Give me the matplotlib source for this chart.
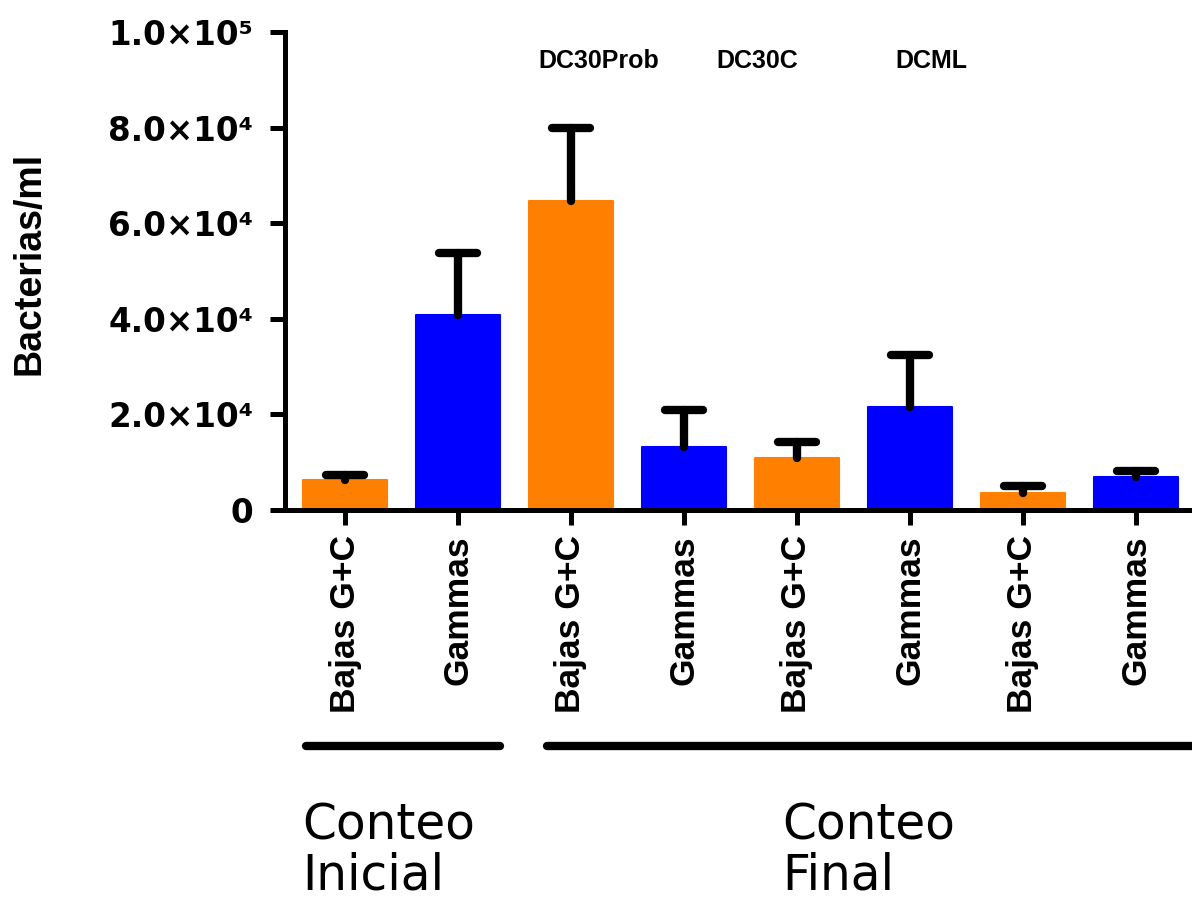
import numpy as np
import matplotlib
matplotlib.use('Agg')
import matplotlib.pyplot as plt
from matplotlib.transforms import blended_transform_factory

# ── Data ──────────────────────────────────────────────────────────────────────
CATEGORIES = ['Bajas G+C', 'Gammas', 'Bajas G+C', 'Gammas',
              'Bajas G+C', 'Gammas', 'Bajas G+C', 'Gammas']
MEANS      = [6300, 40800, 64600, 13200, 10900, 21500, 3600, 6900]
ERRORS     = [1000, 13000, 15300, 7700, 3300, 10900, 1400, 1300]
Y_TICKS    = [0, 20000, 40000, 60000, 80000, 100000]
Y_LABELS   = ['0', '2.0×10⁴', '4.0×10⁴', '6.0×10⁴', '8.0×10⁴', '1.0×10⁵']
TREATMENTS = ['DC30Prob', 'DC30C', 'DCML']
TREAT_X    = [2.25, 3.65, 5.19]

ORANGE = '#FF8000'
BLUE   = '#0000FF'


def main():
    fig = plt.figure(figsize=(11.92, 9.01), dpi=100)
    ax = fig.add_axes([0.2391, 0.434, 0.7609, 0.5305])

    x = np.arange(len(MEANS))
    colors = [ORANGE if i % 2 == 0 else BLUE for i in x]
    ax.bar(x, MEANS, width=0.74, color=colors, edgecolor=colors,
           linewidth=1.5, joinstyle='round', zorder=2)

    # upper-only error bars (stem + cap)
    tops = np.array(MEANS) + np.array(ERRORS)
    ax.vlines(x, MEANS, tops, color='black', linewidth=6, capstyle='round', zorder=3)
    ax.hlines(tops, x - 0.165, x + 0.165, color='black', linewidth=6,
              capstyle='round', zorder=3)

    ax.set_xlim(-0.531, 7.496)
    ax.set_ylim(0, 100000)

    for s in ['top', 'right']:
        ax.spines[s].set_visible(False)
    for s in ['left', 'bottom']:
        ax.spines[s].set_linewidth(3.6)

    ax.set_yticks(Y_TICKS)
    ax.set_yticklabels(Y_LABELS, fontsize=23.5, fontweight='bold',
                       family=['DejaVu Sans'])
    ax.set_xticks(x)
    ax.set_xticklabels(CATEGORIES, rotation=90, fontsize=25.5, fontweight='bold',
                       family=['Liberation Sans', 'DejaVu Sans'])
    ax.tick_params(axis='y', length=11, width=3.6, pad=12)
    ax.tick_params(axis='x', length=11, width=3.6, pad=7)

    fig.text(0.025, 0.708, 'Bacterias/ml', rotation=90, fontsize=27,
             fontweight='bold', family=['Liberation Sans'],
             ha='center', va='center')

    for label, tx in zip(TREATMENTS, TREAT_X):
        ax.text(tx, 94000, label, fontsize=18, fontweight='bold',
                family=['Liberation Sans'], ha='center', va='center')

    # group brackets under the category labels
    trans = blended_transform_factory(ax.transData, ax.transAxes)
    ax.plot([-0.345, 1.372], [-0.494, -0.494], color='black', linewidth=6,
            solid_capstyle='round', transform=trans, clip_on=False)
    ax.plot([1.788, 7.6], [-0.494, -0.494], color='black', linewidth=6,
            solid_capstyle='round', transform=trans, clip_on=False)

    for left, words in [(0.2534, ('Conteo', 'Inicial')),
                        (0.6560, ('Conteo', 'Final'))]:
        fig.text(left, 1 - 840 / 901, words[0], fontsize=35,
                 family=['DejaVu Sans'], ha='left', va='baseline')
        fig.text(left, 1 - 890 / 901, words[1], fontsize=35,
                 family=['DejaVu Sans'], ha='left', va='baseline')

    fig.savefig('out.png', dpi=100)
    plt.close(fig)


if __name__ == '__main__':
    main()
